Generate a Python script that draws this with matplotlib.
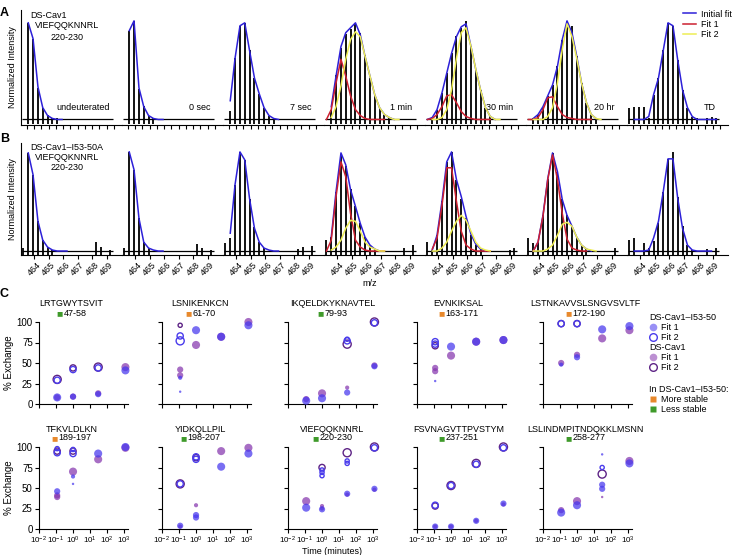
import numpy as np
import matplotlib
matplotlib.use('Agg')
import matplotlib.pyplot as plt
from matplotlib.lines import Line2D
from matplotlib.offsetbox import TextArea, HPacker, AnnotationBbox
from matplotlib.ticker import FixedLocator, LogLocator, NullFormatter

plt.rcParams['font.family'] = ['Liberation Sans', 'DejaVu Sans']
plt.rcParams['mathtext.fontset'] = 'custom'
plt.rcParams['mathtext.rm'] = 'Liberation Sans'
plt.rcParams['mathtext.it'] = 'Liberation Sans:italic'
plt.rcParams['axes.linewidth'] = 0.8

N = None

# ---------------- A / B: isotope distributions (VIEFQQKNNRL 220-230, z=3) ----------------
mz = [463.26, 463.59, 463.92, 464.26, 464.59, 464.92, 465.26, 465.59, 465.92, 466.26,
      466.59, 466.92, 467.26, 467.59, 467.92, 468.26, 468.59, 468.92, 469.26]
timepoints = ['undeuterated', '0 sec', '7 sec', '1 min', '30 min', '20 hr', 'TD']

# DS-Cav1
a_sticks = [
    [0, .98, .82, .32, .12, .05, .02, .01, 0, 0, 0, 0, 0, 0, 0, 0, 0, 0, 0],
    [0, .90, 1.0, .31, .14, .04, .01, 0, 0, 0, 0, 0, 0, 0, 0, 0, 0, 0, 0],
    [0, .09, .62, .95, .98, .70, .42, .26, .12, .04, .01, 0, 0, 0, 0, 0, 0, 0, 0],
    [0, .10, .45, .72, .87, .92, .97, .88, .65, .42, .25, .12, .05, .02, 0, 0, 0, 0, 0],
    [0, .03, .10, .27, .47, .67, .85, .93, 1.0, .75, .50, .30, .12, .04, 0, 0, 0, 0, 0],
    [0, .01, .05, .13, .24, .35, .54, .81, 1.0, .95, .64, .37, .17, .05, .01, 0, 0, 0, 0],
    [.12, .13, .13, .13, .02, .25, .42, .70, .98, .95, .60, .30, .12, .03, .01, 0, .02, .03, .02],
]
a_initial = [
    [N, .98, .82, .33, .12, .04, .01, 0, 0, N, N, N, N, N, N, N, N, N, N],
    [N, .90, 1.0, .32, .13, .04, .01, 0, 0, N, N, N, N, N, N, N, N, N, N],
    [N, .19, .62, .95, .98, .70, .42, .26, .12, .04, .01, 0, N, N, N, N, N, N, N],
    [N, .13, .44, .74, .88, .93, .98, .86, .64, .44, .25, .12, .05, .02, 0, N, N, N, N],
    [0, .02, .10, .27, .47, .67, .84, .94, .97, .74, .51, .30, .12, .03, 0, N, N, N, N],
    [N, .01, .05, .13, .24, .35, .54, .81, 1.0, .88, .64, .37, .17, .05, .01, N, N, N, N],
    [N, 0, 0, 0, .03, .25, .42, .70, .98, .95, .60, .30, .12, .03, 0, 0, 0, 0, 0],
]
a_fit1 = [N, N, N,
    [0, .10, .37, .61, .44, .24, .10, .04, .01, 0, 0, 0, 0, N, N, N, N, N, N],
    [0, .01, .05, .13, .24, .25, .17, .08, .03, .01, 0, 0, 0, 0, N, N, N, N, N],
    [0, 0, .02, .10, .22, .23, .13, .05, .02, .01, 0, 0, 0, 0, N, N, N, N, N],
    N]
a_fit2 = [N, N, N,
    [N, .02, .13, .34, .61, .81, .89, .84, .64, .44, .25, .12, .05, .02, 0, 0, N, N, N],
    [N, 0, 0, .02, .10, .30, .62, .88, .93, .74, .51, .30, .12, .03, 0, 0, N, N, N],
    [N, 0, 0, 0, .03, .12, .37, .71, .97, .84, .62, .37, .17, .05, .01, 0, N, N, N],
    N]

# DS-Cav1-I53-50A
b_sticks = [
    [.03, .99, .77, .30, .11, .04, .01, 0, 0, 0, 0, 0, 0, 0, 0, .09, .04, 0, .01],
    [.03, 1.0, .82, .33, .09, .03, 0, 0, 0, 0, 0, 0, 0, 0, 0, .07, .03, 0, .01],
    [.08, .13, .67, 1.0, .92, .53, .24, .09, .03, 0, 0, 0, 0, 0, 0, .02, .04, 0, .05],
    [.11, .14, .60, .98, .86, .63, .45, .28, .14, .06, .02, 0, 0, 0, 0, 0, .03, 0, .06],
    [.09, .01, .16, .50, .90, 1.0, .72, .53, .33, .16, .06, .02, 0, 0, 0, 0, 0, .01, .03],
    [.13, .08, .09, .36, .73, .99, .80, .52, .36, .25, .14, .06, .02, 0, 0, 0, 0, 0, .03],
    [.11, .13, 0, .08, .03, .10, .28, .60, .93, 1.0, .55, .25, .06, .01, 0, 0, .02, 0, .03],
]
b_initial = [
    [N, .99, .77, .30, .11, .04, .01, 0, 0, 0, N, N, N, N, N, N, N, N, N],
    [N, 1.0, .82, .33, .09, .03, .01, 0, 0, N, N, N, N, N, N, N, N, N, N],
    [N, .18, .67, 1.0, .92, .53, .23, .09, .03, .01, 0, 0, N, N, N, N, N, N, N],
    [N, .14, .60, .99, .87, .62, .45, .28, .14, .06, .02, 0, N, N, N, N, N, N, N],
    [N, .01, .16, .50, .90, 1.0, .72, .55, .35, .17, .07, .02, 0, N, N, N, N, N, N],
    [N, 0, .09, .36, .73, .99, .80, .52, .36, .25, .14, .06, .02, 0, N, N, N, N, N],
    [N, 0, 0, 0, .01, .13, .30, .60, .93, .93, .53, .23, .06, .01, 0, 0, 0, 0, N],
]
b_fit1 = [N, N, N,
    [0, .11, .55, .90, .75, .38, .11, .04, .01, 0, 0, 0, 0, N, N, N, N, N, N],
    [N, .02, .13, .46, .84, .84, .50, .20, .06, .02, 0, 0, 0, 0, N, N, N, N, N],
    [N, 0, .09, .35, .72, .97, .72, .38, .12, .03, .01, 0, 0, N, N, N, N, N, N],
    N]
b_fit2 = [N, N, N,
    [N, .01, .04, .11, .23, .31, .30, .20, .09, .04, .02, 0, 0, N, N, N, N, N, N],
    [N, 0, 0, .03, .09, .20, .30, .36, .31, .20, .09, .03, .01, 0, N, N, N, N, N],
    [N, 0, 0, 0, .02, .06, .16, .27, .29, .25, .14, .06, .02, .01, 0, N, N, N, N],
    N]

# ---------------- C: % exchange vs time ----------------
peptides = ['LRTGWYTSVIT', 'LSNIKENKCN', 'IKQELDKYKNAVTEL', 'EVNKIKSAL', 'LSTNKAVVSLSNGVSVLTF',
            'TFKVLDLKN', 'YIDKQLLPIL', 'VIEFQQKNNRL', 'FSVNAGVTTPVSTYM', 'LSLINDMPITNDQKKLMSNN']
residues = ['47-58', '61-70', '79-93', '163-171', '172-190',
            '189-197', '198-207', '220-230', '237-251', '258-277']
more_stable = [False, True, False, True, True, True, False, False, False, False]
times_min = [0.117, 1, 30, 1200]   # 7 sec, 1 min, 30 min, 20 hr

L, M, S, X = 34, 20, 9, 3          # marker areas
# (panel, time index, % exchange, marker area)
i53_fit1 = [
    (0, 0, 8, L), (0, 1, 9, M), (0, 2, 12, M), (0, 3, 41, L),
    (1, 0, 32, S), (1, 0, 15, X), (1, 1, 90, L), (1, 2, 82, L), (1, 3, 96, L),
    (2, 0, 4, L), (2, 1, 7, L), (2, 2, 14, M), (2, 3, 46, M),
    (3, 0, 28, X), (3, 1, 70, L), (3, 2, 76, L), (3, 3, 78, L),
    (4, 0, 48, S), (4, 1, 57, M), (4, 2, 91, L), (4, 3, 95, L),
    (5, 0, 46, M), (5, 1, 64, S), (5, 1, 55, X), (5, 2, 92, L), (5, 3, 100, L),
    (6, 0, 4, M), (6, 1, 17, M), (6, 1, 14, M), (6, 2, 76, L), (6, 3, 92, L),
    (7, 0, 26, L), (7, 1, 24, M), (7, 2, 43, M), (7, 3, 49, M),
    (8, 0, 3, M), (8, 1, 3, M), (8, 2, 10, M), (8, 3, 31, M),
    (9, 0, 20, L), (9, 1, 29, L), (9, 2, 54, M), (9, 2, 49, M), (9, 2, 91, X), (9, 3, 80, L),
]
i53_fit2 = [
    (0, 0, 29, M), (0, 1, 42, M), (0, 2, 44, M),
    (1, 0, 83, M), (1, 0, 77, L),
    (2, 2, 79, S), (2, 2, 77, M), (2, 3, 99, M),
    (3, 0, 76, M), (3, 0, 73, M),
    (4, 0, 98, M), (4, 1, 98, M),
    (5, 0, 98, S), (5, 0, 93, M), (5, 1, 97, S), (5, 1, 92, M),
    (6, 0, 55, M), (6, 1, 88, M), (6, 1, 85, M),
    (7, 1, 72, S), (7, 1, 69, S), (7, 1, 65, S), (7, 2, 83, S), (7, 2, 80, S), (7, 3, 99, M),
    (8, 0, 29, M), (8, 1, 53, M), (8, 2, 79, M), (8, 3, 99, M),
    (9, 2, 75, S),
]
cav_fit1 = [
    (0, 0, 8, M), (0, 1, 9, M), (0, 2, 13, M), (0, 3, 45, L),
    (1, 0, 42, M), (1, 0, 35, M), (1, 1, 72, L), (1, 2, 82, L), (1, 3, 100, L),
    (2, 0, 6, M), (2, 1, 13, L), (2, 2, 20, S), (2, 3, 47, M),
    (3, 0, 44, M), (3, 0, 40, M), (3, 1, 59, L), (3, 2, 76, L), (3, 3, 78, L),
    (4, 0, 50, M), (4, 1, 60, M), (4, 2, 80, L), (4, 3, 90, L),
    (5, 0, 41, M), (5, 0, 39, M), (5, 1, 70, L), (5, 2, 85, L), (5, 3, 99, L),
    (6, 0, 3, S), (6, 1, 29, S), (6, 2, 95, L), (6, 3, 99, L),
    (7, 0, 34, L), (7, 1, 28, S), (7, 1, 25, S), (7, 2, 42, S), (7, 3, 48, S),
    (8, 0, 3, S), (8, 1, 3, S), (8, 2, 10, S), (8, 3, 30, S),
    (9, 0, 23, M), (9, 1, 34, L), (9, 2, 39, X), (9, 3, 83, L),
]
cav_fit2 = [
    (0, 0, 30, L), (0, 1, 44, M), (0, 2, 45, L),
    (1, 0, 96, S),
    (2, 2, 73, L), (2, 3, 100, L),
    (3, 0, 71, M),
    (4, 0, 98, M), (4, 1, 98, M),
    (5, 0, 95, M), (5, 1, 95, M),
    (6, 0, 55, L), (6, 1, 87, M),
    (7, 1, 75, M), (7, 2, 93, L), (7, 3, 100, L),
    (8, 0, 28, M), (8, 1, 53, L), (8, 2, 80, L), (8, 3, 100, L),
    (9, 2, 67, L),
]

# ---------------- styling ----------------
W, H = 736, 555
blue, red, yellow = '#2d20d8', '#cc2030', '#eeee55'
c_i53, c_i53_ring = '#4636ee', '#4a3cec'
c_cav, c_cav_ring = '#8636ae', '#5e2486'
orange, green = '#e8892c', '#3f9a2a'
fill_alpha = 0.72
fs = 6.5
title_dx = [-12, -6, 0, -3, -2]      # px shift of peptide titles from axes centre

fig = plt.figure(figsize=(W / 100, H / 100), dpi=100)


def px_axes(x0, y0, w, h):
    return fig.add_axes([x0 / W, 1 - (y0 + h) / H, w / W, h / H])


def ftext(x, y, s, **kw):
    return fig.text(x / W, 1 - y / H, s, **kw)


def spectrum_row(top, height, ylim, sticks, initial, fit1, fit2, labels, ticklabels):
    axes = []
    sub_w = 101
    for i in range(7):
        ax = px_axes(21 + i * sub_w, top, sub_w, height)
        ax.patch.set_alpha(0)
        ax.set_xlim(463.09, 463.09 + sub_w / 14.5)
        ax.set_ylim(*ylim)
        for s in ['top', 'right']:
            ax.spines[s].set_visible(False)
        if i > 0:
            ax.spines['left'].set_visible(False)
        ax.set_yticks([])
        x = np.array(mz)
        h = np.array(sticks[i], dtype=float)
        on = h > 0
        ax.hlines(0, 463.15, 469.45, color='k', lw=0.9, zorder=2)
        ax.vlines(x[on], -0.045, h[on], color='k', lw=1.3, zorder=2)
        ax.plot(x, np.array(initial[i], dtype=float), color=blue, lw=1.1, zorder=3)
        if fit1[i] is not None:
            ax.plot(x, np.array(fit1[i], dtype=float), color=red, lw=1.1, zorder=4)
        if fit2[i] is not None:
            ax.plot(x, np.array(fit2[i], dtype=float), color=yellow, lw=1.1, zorder=5)
        if labels:
            ax.text(469.2, 0.12, timepoints[i], ha='right', va='center', fontsize=fs)
        ax.set_xticks([464, 465, 466, 467, 468, 469])
        ax.tick_params(axis='x', length=3, width=0.8, pad=1)
        if ticklabels:
            ax.set_xticklabels(['464', '465', '466', '467', '468', '469'],
                               rotation=45, fontsize=fs)
        else:
            ax.set_xticks([463.5, 464.5, 465.5, 466.5, 467.5, 468.5, 469.5], minor=True)
            ax.tick_params(axis='x', which='minor', length=3, width=0.8)
            ax.set_xticklabels([])
        axes.append(ax)
    axes[0].set_ylabel('Normalized Intensity', fontsize=fs, labelpad=3)
    return axes


ax_a = spectrum_row(10, 115, (-0.056, 1.11), a_sticks, a_initial, a_fit1, a_fit2, True, False)
ax_b = spectrum_row(143, 112, (-0.04, 1.09), b_sticks, b_initial, b_fit1, b_fit2, False, True)

ftext(30, 15, 'DS-Cav1', fontsize=fs, va='center', ha='left')
ftext(67, 25, 'VIEFQQKNNRL', fontsize=fs, va='center', ha='center')
ftext(67, 37, '220-230', fontsize=fs, va='center', ha='center')
ftext(67, 147, 'DS-Cav1\u2013I53-50A', fontsize=fs, va='center', ha='center')
ftext(67, 157, 'VIEFQQKNNRL', fontsize=fs, va='center', ha='center')
ftext(67, 168, '220-230', fontsize=fs, va='center', ha='center')
ftext(370, 283, 'm/z', fontsize=fs, va='center', ha='center')

fig.legend(handles=[Line2D([], [], color=blue, lw=1.1, label='Initial fit'),
                    Line2D([], [], color=red, lw=1.1, label='Fit 1'),
                    Line2D([], [], color=yellow, lw=1.1, label='Fit 2')],
           loc='upper right', bbox_to_anchor=(736 / W, 1 - 5 / H), frameon=False,
           fontsize=fs, handlelength=1.5, handletextpad=0.5, labelspacing=0.15, borderpad=0)

# panel C grid
c_lefts = [39, 162, 288, 417, 543]
c_tops = [322, 447]
for p in range(10):
    r, c = divmod(p, 5)
    ax = px_axes(c_lefts[c], c_tops[r], 89, 82)
    ax.set_xscale('log')
    ax.set_xlim(0.01, 1700)
    ax.set_ylim(0, 100)
    for s in ['top', 'right']:
        ax.spines[s].set_visible(False)
    ax.xaxis.set_major_locator(FixedLocator([1e-2, 1e-1, 1, 10, 100, 1000]))
    ax.xaxis.set_minor_locator(LogLocator(base=10, subs=np.arange(2, 10)))
    ax.xaxis.set_minor_formatter(NullFormatter())
    ax.set_yticks([0, 25, 50, 75, 100])
    ax.tick_params(length=3, width=0.8, labelsize=7, pad=1.5)
    ax.tick_params(axis='x', labelsize=5.8, pad=1)
    ax.tick_params(which='minor', length=1.8, width=0.6)
    if r == 1:
        ax.set_xticklabels(['$10^{-2}$', '$10^{-1}$', '$10^{0}$', '$10^{1}$', '$10^{2}$', '$10^{3}$'])
    else:
        ax.set_xticklabels([])
    if c == 0:
        ax.set_ylabel('% Exchange', fontsize=7, labelpad=2)
    else:
        ax.set_yticklabels([])

    for data, col, filled in [(cav_fit1, c_cav, True), (i53_fit1, c_i53, True),
                              (cav_fit2, c_cav_ring, False), (i53_fit2, c_i53_ring, False)]:
        pts = [d for d in data if d[0] == p]
        if not pts:
            continue
        t = [times_min[d[1]] for d in pts]
        y = [d[2] for d in pts]
        s = [d[3] for d in pts]
        if filled:
            ax.scatter(t, y, s=s, color=col, alpha=fill_alpha, edgecolors='none',
                       clip_on=False, zorder=3)
        else:
            ax.scatter(t, y, s=s, facecolors='none', edgecolors=col, linewidths=1.0,
                       clip_on=False, zorder=4)

    tx = 0.5 + title_dx[c] / 89
    ax.text(tx, 1 + 18 / 82, peptides[p], transform=ax.transAxes, ha='center', va='center',
            fontsize=fs)
    box = HPacker(children=[TextArea('\u25a0', textprops=dict(color=orange if more_stable[p] else green,
                                                               fontsize=fs + 1)),
                            TextArea(residues[p], textprops=dict(fontsize=fs))],
                  pad=0, sep=1, align='center')
    ab = AnnotationBbox(box, (tx, 1 + 9 / 82), xycoords='axes fraction', frameon=False,
                        box_alignment=(0.5, 0.5), pad=0)
    ax.add_artist(ab)
    if p == 7:
        ax.set_xlabel('Time (minutes)', fontsize=6.5, labelpad=0.5)

# panel C legend
ftext(649, 317, 'DS-Cav1\u2013I53-50', fontsize=fs, va='center')
ftext(649, 347, 'DS-Cav1', fontsize=fs, va='center')
ftext(649, 389, 'In DS-Cav1\u2013I53-50:', fontsize=fs, va='center')
leg_rows = [(327, 'Fit 1', dict(marker='o', color=c_i53, alpha=0.55, mec='none', ms=5.5)),
            (337, 'Fit 2', dict(marker='o', mfc='none', mec=c_i53_ring, mew=1.0, ms=5.5)),
            (357, 'Fit 1', dict(marker='o', color=c_cav, alpha=0.55, mec='none', ms=5.5)),
            (367, 'Fit 2', dict(marker='o', mfc='none', mec=c_cav_ring, mew=1.0, ms=5.5)),
            (399, 'More stable', dict(marker='s', color=orange, mec='none', ms=5)),
            (409, 'Less stable', dict(marker='s', color=green, mec='none', ms=5))]
for y, label, style in leg_rows:
    fig.add_artist(Line2D([653 / W], [1 - y / H], ls='none', **style))
    ftext(661, y, label, fontsize=fs, va='center')

for letter, y in [('A', 13), ('B', 139), ('C', 294)]:
    ftext(0, y, letter, fontsize=9, fontweight='bold', va='center', ha='left')

fig.savefig('out.png', dpi=100)
